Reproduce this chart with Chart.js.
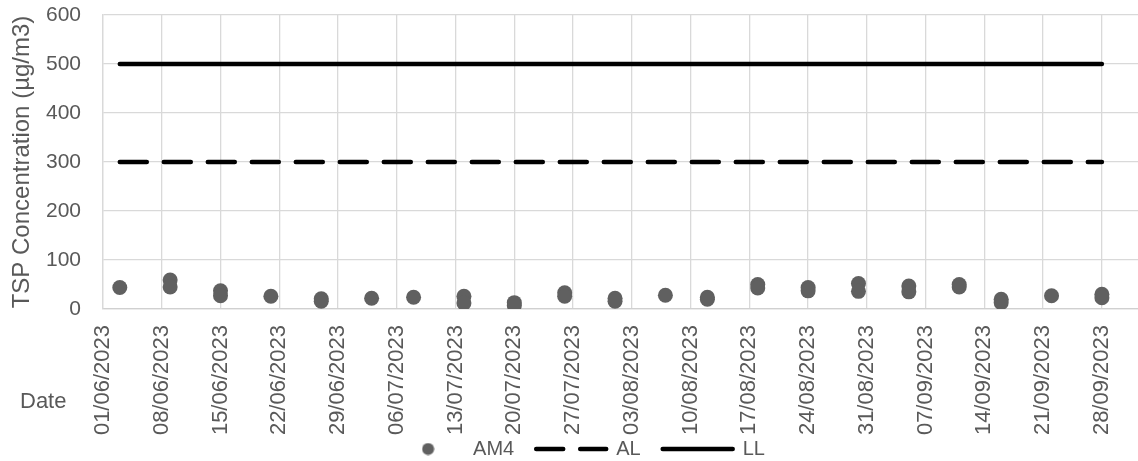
<!DOCTYPE html>
<html>
<head>
<meta charset="utf-8">
<script src="https://cdn.jsdelivr.net/npm/chart.js@4.4.1/dist/chart.umd.min.js"></script>
<style>
html,body{margin:0;padding:0;background:#fff;}
#wrap{width:1138px;height:461px;position:relative;}
</style>
</head>
<body>
<div id="wrap"><canvas id="c" width="1138" height="461"></canvas></div>
<script>
// ---- data ----
const sampleDates = [
  '03/06/2023','09/06/2023','09/06/2023','15/06/2023','15/06/2023','21/06/2023',
  '27/06/2023','27/06/2023','03/07/2023','08/07/2023','14/07/2023','14/07/2023',
  '20/07/2023','20/07/2023','26/07/2023','26/07/2023','01/08/2023','01/08/2023',
  '07/08/2023','12/08/2023','12/08/2023','18/08/2023','18/08/2023','24/08/2023',
  '24/08/2023','30/08/2023','30/08/2023','05/09/2023','05/09/2023','11/09/2023',
  '11/09/2023','16/09/2023','16/09/2023','22/09/2023','28/09/2023','28/09/2023'
];
const am4Values = [
  44, 59, 45, 37, 27, 26,
  21, 16, 22, 24, 26, 12,
  13, 7, 33, 26, 22, 16,
  28, 24, 20, 50, 43, 44,
  37, 52, 36, 47, 35, 50,
  45, 20, 13, 27, 30, 23
];
const limitDates = ['03/06/2023','28/09/2023'];
const alValues = [300, 300];
const llValues = [500, 500];
const tickDates = [
  '01/06/2023','08/06/2023','15/06/2023','22/06/2023','29/06/2023','06/07/2023',
  '13/07/2023','20/07/2023','27/07/2023','03/08/2023','10/08/2023','17/08/2023',
  '24/08/2023','31/08/2023','07/09/2023','14/09/2023','21/09/2023','28/09/2023'
];
const yTicks = [0, 100, 200, 300, 400, 500, 600];

// ---- helpers ----
function toDay(s){
  const p = s.split('/').map(Number);
  return (Date.UTC(p[2], p[1]-1, p[0]) - Date.UTC(2023, 5, 1)) / 86400000;
}
const txt = '#595959';
Chart.defaults.font.family = '"Liberation Sans", Arial, sans-serif';

const dot = document.createElement('canvas');
dot.width = 13; dot.height = 13;
(function(){ const g = dot.getContext('2d'); g.fillStyle = '#606060'; g.beginPath(); g.arc(6.5,6.5,6,0,Math.PI*2); g.fill(); })();

const dateLabel = {
  id: 'dateLabel',
  afterLayout(chart){
    // let the rotated date labels run down to the legend row without being clipped
    chart.scales.x.bottom = chart.height;
  },
  afterDraw(chart){
    const ctx = chart.ctx;
    ctx.save();
    ctx.font = '22px "Liberation Sans", Arial, sans-serif';
    ctx.fillStyle = txt;
    ctx.textBaseline = 'middle';
    ctx.textAlign = 'left';
    ctx.fillText('Date', 20, 402);
    ctx.restore();
  }
};

new Chart(document.getElementById('c'), {
  type: 'scatter',
  data: {
    datasets: [
      {
        label: 'AM4',
        data: sampleDates.map((d,i)=>({x: toDay(d), y: am4Values[i]})),
        pointRadius: 7.5,
        pointHoverRadius: 7.5,
        pointBackgroundColor: '#606060',
        pointBorderWidth: 0,
        borderWidth: 0,
        showLine: false
      },
      {
        label: 'AL',
        data: limitDates.map((d,i)=>({x: toDay(d), y: alValues[i]})),
        showLine: true,
        borderColor: '#000',
        borderWidth: 4.5,
        borderDash: [27, 17],
        borderCapStyle: 'round',
        pointRadius: 0
      },
      {
        label: 'LL',
        data: limitDates.map((d,i)=>({x: toDay(d), y: llValues[i]})),
        showLine: true,
        borderColor: '#000',
        borderWidth: 4.5,
        borderCapStyle: 'round',
        pointRadius: 0
      }
    ]
  },
  options: {
    responsive: false,
    animation: false,
    events: [],
    layout: { autoPadding: false, padding: { left: 20, right: 0, top: 15, bottom: -8 } },
    plugins: {
      tooltip: { enabled: false },
      legend: {
        position: 'bottom',
        labels: {
          usePointStyle: true,
          pointStyleWidth: 70,
          padding: 22,
          color: txt,
          font: { size: 20 },
          generateLabels(){
            return [
              { text: 'AM4', pointStyle: dot, fillStyle: '#606060', strokeStyle: '#606060', lineWidth: 0, datasetIndex: 0, fontColor: txt },
              { text: 'AL', pointStyle: 'line', fillStyle: '#000', strokeStyle: '#000', lineWidth: 4.5, lineDash: [27, 17], lineCap: 'round', datasetIndex: 1, fontColor: txt },
              { text: 'LL', pointStyle: 'line', fillStyle: '#000', strokeStyle: '#000', lineWidth: 4.5, lineCap: 'round', datasetIndex: 2, fontColor: txt }
            ];
          }
        }
      }
    },
    scales: {
      x: {
        type: 'linear',
        min: 0,
        max: 123.3,
        afterBuildTicks(s){ s.ticks = tickDates.map(d => ({ value: toDay(d) })); },
        ticks: {
          autoSkip: false,
          minRotation: 90,
          maxRotation: 90,
          padding: 0,
          color: txt,
          font: { size: 22 },
          callback(v, i){ return tickDates[i]; }
        },
        grid: { color: '#d9d9d9', lineWidth: 1.3, drawTicks: true, tickLength: 16, tickColor: 'rgba(0,0,0,0)' },
        border: { color: '#d0d0d0', width: 1.3 },
        afterFit(s){ s.height = 108; s.paddingLeft = 0; s.paddingRight = 0; }
      },
      y: {
        min: 0,
        max: 600,
        afterBuildTicks(s){ s.ticks = yTicks.map(v => ({ value: v })); },
        ticks: { padding: 0, color: txt, font: { size: 21 } },
        grid: { color: '#d9d9d9', lineWidth: 1.3, drawTicks: true, tickLength: 22, tickColor: 'rgba(0,0,0,0)' },
        border: { color: '#d9d9d9', width: 1.3 },
        title: {
          display: true,
          text: 'TSP Concentration (µg/m3)',
          color: txt,
          font: { size: 24 },
          padding: { top: -12, bottom: 0 }
        },
        afterFit(s){ s.width = 83; }
      }
    }
  },
  plugins: [dateLabel]
});
</script>
</body>
</html>
